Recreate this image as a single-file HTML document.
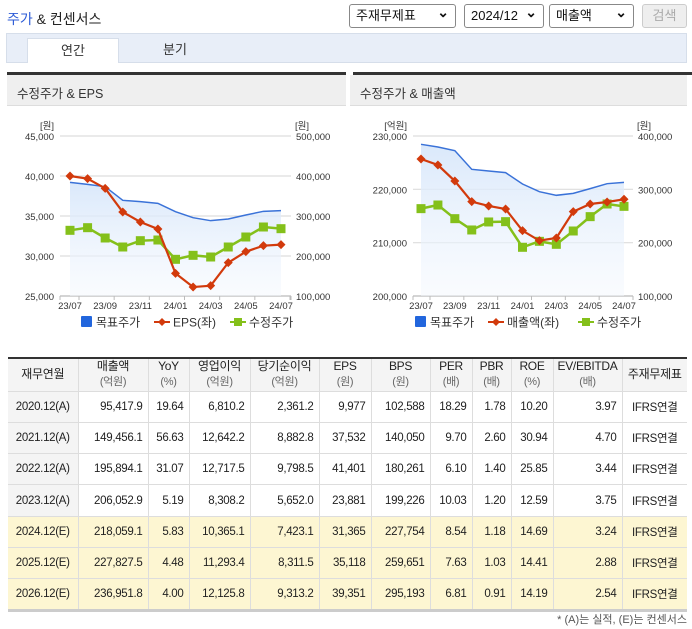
<!DOCTYPE html>
<html><head><meta charset="utf-8">
<style>
*{margin:0;padding:0;box-sizing:border-box}
body{width:692px;height:629px;background:#fff;font-family:"Liberation Sans","Noto Sans CJK KR",sans-serif;font-size:12px;color:#333;position:relative;overflow:hidden}
.abs{position:absolute}
.sel{position:absolute;top:4px;height:24px;border:1px solid #888;border-radius:3px;background:#fff;font-size:13px;line-height:22px;padding-left:6px;color:#111}
.sel:after{content:"⌄";position:absolute;right:6px;top:-4px;font-size:14px;font-weight:bold}
table{position:absolute;left:8px;top:357px;width:679px;border-collapse:collapse;font-size:11.5px;table-layout:fixed;border-top:2px solid #333}
td,th{border-right:1px solid #ddd;border-bottom:1px solid #ddd;height:31.3px;text-align:right;padding-right:5px;font-weight:normal;color:#222;white-space:nowrap;overflow:hidden;letter-spacing:-0.3px}
th{background:#f4f4f4;text-align:center;padding:0;line-height:15px;height:33px;font-size:12px}
th small{color:#666;font-size:11px}
td:first-child{text-align:center;padding:0;background:#f4f4f4}
td:last-child,th:last-child{border-right:none;text-align:center;padding:0}
tr.e td{background:#fdf6d2}
tr.e td:first-child{background:#fdf6d2}
tbody tr:last-child td{border-bottom:3px solid #ccc}
</style></head><body>
<div class="abs" style="left:7px;top:9px;font-size:14px;color:#222"><span style="color:#2c5bd6">주가</span> &amp; 컨센서스</div>
<div class="sel" style="left:349px;width:107px">주재무제표</div>
<div class="sel" style="left:464px;width:80px">2024/12</div>
<div class="sel" style="left:549px;width:85px">매출액</div>
<div class="abs" style="left:642px;top:4px;width:45px;height:24px;border:1px solid #ccc;border-radius:3px;background:#eee;color:#aaa;text-align:center;line-height:22px;font-size:13px">검색</div>
<div class="abs" style="left:6px;top:33px;width:681px;height:30px;background:#e8eef8;border:1px solid #d6deea"></div>
<div class="abs" style="left:27px;top:38px;width:92px;height:25px;background:#fff;border:1px solid #d6deea;border-bottom:none;text-align:center;line-height:23px;font-size:13px">연간</div>
<div class="abs" style="left:140px;top:38px;width:70px;height:25px;text-align:center;line-height:23px;font-size:13px">분기</div>

<div class="abs" style="left:7px;top:72px;width:339px;height:3px;background:#333"></div>
<div class="abs" style="left:7px;top:75px;width:339px;height:31px;background:#efefef;border-bottom:1px solid #ddd;padding:8px 10px;font-size:12.5px">수정주가 &amp; EPS</div>
<div class="abs" style="left:353px;top:72px;width:339px;height:3px;background:#333"></div>
<div class="abs" style="left:350px;top:75px;width:337px;height:31px;background:#efefef;border-bottom:1px solid #ddd;padding:8px 10px;font-size:12.5px">수정주가 &amp; 매출액</div>

<svg id="svg" class="abs" style="left:0;top:0" width="692" height="350" font-family="Liberation Sans, Noto Sans CJK KR, sans-serif"></svg>

<table>
<colgroup><col style="width:70px"><col style="width:70px"><col style="width:41px"><col style="width:61px"><col style="width:69px"><col style="width:52px"><col style="width:59px"><col style="width:42px"><col style="width:39px"><col style="width:42px"><col style="width:69px"><col style="width:65px"></colgroup>
<thead><tr>
<th>재무연월</th><th>매출액<br><small>(억원)</small></th><th>YoY<br><small>(%)</small></th><th>영업이익<br><small>(억원)</small></th><th>당기순이익<br><small>(억원)</small></th><th>EPS<br><small>(원)</small></th><th>BPS<br><small>(원)</small></th><th>PER<br><small>(배)</small></th><th>PBR<br><small>(배)</small></th><th>ROE<br><small>(%)</small></th><th>EV/EBITDA<br><small>(배)</small></th><th>주재무제표</th>
</tr></thead>
<tbody>
<tr><td>2020.12(A)</td><td>95,417.9</td><td>19.64</td><td>6,810.2</td><td>2,361.2</td><td>9,977</td><td>102,588</td><td>18.29</td><td>1.78</td><td>10.20</td><td>3.97</td><td>IFRS연결</td></tr>
<tr><td>2021.12(A)</td><td>149,456.1</td><td>56.63</td><td>12,642.2</td><td>8,882.8</td><td>37,532</td><td>140,050</td><td>9.70</td><td>2.60</td><td>30.94</td><td>4.70</td><td>IFRS연결</td></tr>
<tr><td>2022.12(A)</td><td>195,894.1</td><td>31.07</td><td>12,717.5</td><td>9,798.5</td><td>41,401</td><td>180,261</td><td>6.10</td><td>1.40</td><td>25.85</td><td>3.44</td><td>IFRS연결</td></tr>
<tr><td>2023.12(A)</td><td>206,052.9</td><td>5.19</td><td>8,308.2</td><td>5,652.0</td><td>23,881</td><td>199,226</td><td>10.03</td><td>1.20</td><td>12.59</td><td>3.75</td><td>IFRS연결</td></tr>
<tr class="e"><td>2024.12(E)</td><td>218,059.1</td><td>5.83</td><td>10,365.1</td><td>7,423.1</td><td>31,365</td><td>227,754</td><td>8.54</td><td>1.18</td><td>14.69</td><td>3.24</td><td>IFRS연결</td></tr>
<tr class="e"><td>2025.12(E)</td><td>227,827.5</td><td>4.48</td><td>11,293.4</td><td>8,311.5</td><td>35,118</td><td>259,651</td><td>7.63</td><td>1.03</td><td>14.41</td><td>2.88</td><td>IFRS연결</td></tr>
<tr class="e"><td>2026.12(E)</td><td>236,951.8</td><td>4.00</td><td>12,125.8</td><td>9,313.2</td><td>39,351</td><td>295,193</td><td>6.81</td><td>0.91</td><td>14.19</td><td>2.54</td><td>IFRS연결</td></tr>
</tbody></table>
<div class="abs" style="right:5px;top:611px;font-size:11px;color:#555">* (A)는 실적, (E)는 컨센서스</div>

<script>
const months=["23/07","23/08","23/09","23/10","23/11","23/12","24/01","24/02","24/03","24/04","24/05","24/06","24/07"];
const tickLabels=["23/07","23/09","23/11","24/01","24/03","24/05","24/07"];
const epsValues=[40000,39670,38460,35500,34250,33380,27830,26120,26290,29170,30540,31290,31420];
const targetPriceA=[384200,379200,373300,339200,335800,331700,310800,295800,288300,292500,302500,311700,313300];
const adjPriceA=[264200,270800,245000,222500,238300,240000,191700,201700,197500,222500,247500,272500,268300];
const salesValues=[225690,224560,221560,217690,216880,216310,212250,210380,210880,215810,217250,217630,218130];
const targetPriceB=[384400,379400,372500,337500,334400,331300,310000,295600,288800,292500,301300,310600,313100];
const adjPriceB=[263800,270600,245000,223800,238800,239400,191300,202500,196900,221900,248800,272500,268100];
const leftTicksA=[25000,30000,35000,40000,45000];
const rightTicksA=[100000,200000,300000,400000,500000];
const leftTicksB=[200000,210000,220000,230000];
const rightTicksB=[100000,200000,300000,400000];

const svg=document.getElementById('svg');
const NS='http://www.w3.org/2000/svg';
function mk(tag,attrs,parent){const e=document.createElementNS(NS,tag);for(const k in attrs)e.setAttribute(k,attrs[k]);(parent||svg).appendChild(e);return e;}
const fmt=v=>v.toLocaleString('en-US');

function chart(cfg){
  const g=mk('g',{});
  
  
  const yL=v=>cfg.top+(cfg.lMax-v)/(cfg.lMax-cfg.lMin)*(cfg.bot-cfg.top);
  const yR=v=>cfg.top+(cfg.rMax-v)/(cfg.rMax-cfg.rMin)*(cfg.bot-cfg.top);
  const x=i=>cfg.x0+i*(cfg.x1-cfg.x0)/(months.length-1);
  cfg.lTicks.forEach(t=>{
    const l=mk('line',{x1:cfg.ax0,x2:cfg.ax1,y1:yL(t),y2:yL(t),stroke:t===cfg.lMin?'#bbb':'#ddd','stroke-width':1.2},g);
    
    const tx=mk('text',{x:cfg.ax0-6,y:yL(t)+4,'font-size':9.5,'text-anchor':'end',fill:'#333'},g);tx.textContent=fmt(t);
    
  });
  cfg.rTicks.forEach(t=>{
    const tx=mk('text',{x:cfg.ax1+5,y:yR(t)+4,'font-size':9.5,fill:'#333'},g);tx.textContent=fmt(t);
    
  });
  const u1=mk('text',{x:cfg.ax0-6,y:cfg.top-7,'font-size':9.5,'text-anchor':'end',fill:'#333'},g);u1.textContent=cfg.lUnit;
  
  const u2=mk('text',{x:cfg.ax1+18,y:cfg.top-7,'font-size':9.5,'text-anchor':'end',fill:'#333'},g);u2.textContent='[원]';
  
  months.forEach((m,i)=>{
    if(i%2===0){
      mk('line',{x1:x(i)+cfg.tickOff,x2:x(i)+cfg.tickOff,y1:cfg.bot,y2:cfg.bot+4,stroke:'#bbb'},g);
      const tx=mk('text',{x:x(i),y:cfg.bot+13,'font-size':9.5,'text-anchor':'middle',fill:'#333'},g);tx.textContent=m;
      
    }
  });
  mk('line',{x1:cfg.ax0,x2:cfg.ax0,y1:cfg.bot,y2:cfg.bot+4,stroke:'#bbb'},g);
  mk('line',{x1:cfg.ax1,x2:cfg.ax1,y1:cfg.bot,y2:cfg.bot+4,stroke:'#bbb'},g);
  const grad=mk('linearGradient',{id:cfg.name+'g',x1:0,y1:0,x2:0,y2:1},mk('defs',{},g));
  mk('stop',{offset:0,'stop-color':'#d6e6fa','stop-opacity':0.9},grad);
  mk('stop',{offset:1,'stop-color':'#f4f8fe','stop-opacity':0.5},grad);
  let pts=cfg.target.map((v,i)=>x(i)+','+yR(v)).join(' ');
  const area=mk('polygon',{points:x(0)+','+cfg.bot+' '+pts+' '+x(months.length-1)+','+cfg.bot,fill:'url(#'+cfg.name+'g)'},g);
  
  const tl=mk('polyline',{points:pts,fill:'none',stroke:'#3a72d8','stroke-width':1.5},g);
  
  const ap=cfg.adj.map((v,i)=>x(i)+','+yR(v)).join(' ');
  const al=mk('polyline',{points:ap,fill:'none',stroke:'#84c01a','stroke-width':2.5},g);
  
  cfg.adj.forEach((v,i)=>{const r=mk('rect',{x:x(i)-4.5,y:yR(v)-4.5,width:9,height:9,fill:'#84c01a'},g);
    });
  const mp=cfg.main.map((v,i)=>x(i)+','+yL(v)).join(' ');
  const ml=mk('polyline',{points:mp,fill:'none',stroke:'#d23a0c','stroke-width':2.2},g);
  
  cfg.main.forEach((v,i)=>{const cx=x(i),cy=yL(v);
    const d=mk('polygon',{points:`${cx},${cy-4.5} ${cx+4.5},${cy} ${cx},${cy+4.5} ${cx-4.5},${cy}`,fill:'#d23a0c'},g);
    });
  const lg=mk('g',{},g);
  let lx=cfg.legX, ly=322;
  mk('rect',{x:lx,y:ly-6,width:11,height:11,fill:'#2266dd',rx:1},lg);
  let t=mk('text',{x:lx+15,y:ly+4.5,'font-size':12,fill:'#333'},lg);t.textContent='목표주가';
  lx+=cfg.legGap1;
  mk('line',{x1:lx,x2:lx+16,y1:ly,y2:ly,stroke:'#d23a0c','stroke-width':2},lg);
  mk('polygon',{points:`${lx+8},${ly-4} ${lx+12},${ly} ${lx+8},${ly+4} ${lx+4},${ly}`,fill:'#d23a0c'},lg);
  t=mk('text',{x:lx+19,y:ly+4.5,'font-size':12,fill:'#333'},lg);t.textContent=cfg.mainLabel;
  lx+=cfg.legGap2;
  mk('line',{x1:lx,x2:lx+16,y1:ly,y2:ly,stroke:'#84c01a','stroke-width':2},lg);
  mk('rect',{x:lx+4,y:ly-4,width:8,height:8,fill:'#84c01a'},lg);
  t=mk('text',{x:lx+19,y:ly+4.5,'font-size':12,fill:'#333'},lg);t.textContent='수정주가';
}
chart({name:'eps-chart',mainName:'eps',mainLabel:'EPS(좌)',top:136,bot:296,ax0:60,ax1:291,x0:70,x1:281,tickOff:9,
  lMin:25000,lMax:45000,rMin:100000,rMax:500000,lTicks:leftTicksA,rTicks:rightTicksA,lUnit:'[원]',
  main:epsValues,target:targetPriceA,adj:adjPriceA,legX:81,legGap1:73,legGap2:76});
chart({name:'sales-chart',mainName:'sales',mainLabel:'매출액(좌)',top:136,bot:296,ax0:413,ax1:633,x0:421,x1:624,tickOff:9,
  lMin:200000,lMax:230000,rMin:100000,rMax:400000,lTicks:leftTicksB,rTicks:rightTicksB,lUnit:'[억원]',
  main:salesValues,target:targetPriceB,adj:adjPriceB,legX:415,legGap1:73,legGap2:90});
</script>
</body></html>
